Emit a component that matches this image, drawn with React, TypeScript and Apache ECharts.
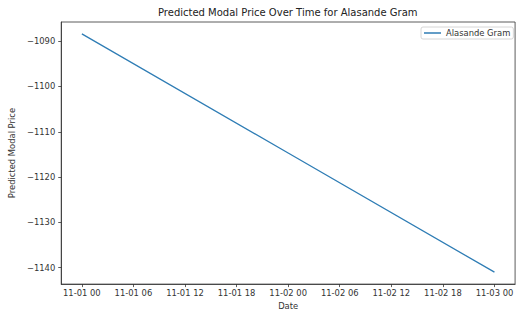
import React, { useEffect, useRef } from "react";
import * as echarts from "echarts";

const seriesName = "Alasande Gram";
const dates = ["2023-11-01T00:00:00Z", "2023-11-02T00:00:00Z", "2023-11-03T00:00:00Z"];
const prices = [-1088.4, -1114.7, -1141.0];
const xTickDates = [
  "2023-11-01T00:00:00Z", "2023-11-01T06:00:00Z", "2023-11-01T12:00:00Z",
  "2023-11-01T18:00:00Z", "2023-11-02T00:00:00Z", "2023-11-02T06:00:00Z",
  "2023-11-02T12:00:00Z", "2023-11-02T18:00:00Z", "2023-11-03T00:00:00Z",
];
const yTicks = [-1140, -1130, -1120, -1110, -1100, -1090];

const FONT = "DejaVu Sans";
const INK = "#333";

const pad2 = (n: number) => (n < 10 ? "0" + n : "" + n);
const fmtDate = (v: number) => {
  const d = new Date(v);
  return pad2(d.getUTCMonth() + 1) + "-" + pad2(d.getUTCDate()) + " " + pad2(d.getUTCHours());
};

export default function App() {
  const ref = useRef<HTMLDivElement>(null);
  useEffect(() => {
    if (!ref.current) return;
    const chart = echarts.init(ref.current, null, { renderer: "svg" });
    const ts = dates.map((d) => Date.parse(d));
    const xTicks = xTickDates.map((d) => Date.parse(d));
    const span = ts[ts.length - 1] - ts[0];
    const yMinD = Math.min(...prices);
    const yMaxD = Math.max(...prices);
    const yr = yMaxD - yMinD;
    chart.setOption({
      animation: false,
      backgroundColor: "#fff",
      title: {
        text: "Predicted Modal Price Over Time for Alasande Gram",
        left: 158,
        top: 7,
        padding: 0,
        textStyle: { fontFamily: FONT, fontSize: 10, fontWeight: "normal", color: "#222" },
      },
      legend: {
        left: 421,
        top: 27,
        orient: "horizontal",
        padding: [2, 3, 2, 3],
        itemWidth: 17,
        itemHeight: 1.5,
        borderColor: "#ccc",
        borderWidth: 0.8,
        borderRadius: 2,
        data: [{ name: seriesName, icon: "rect" }],
        textStyle: { fontFamily: FONT, fontSize: 8.4, color: INK },
      },
      grid: {
        left: 55,
        right: -3,
        top: 22,
        bottom: 25,
        show: true,
        borderColor: INK,
        borderWidth: 0.8,
        containLabel: false,
      },
      xAxis: {
        type: "value",
        min: ts[0] - span * 0.05,
        max: ts[ts.length - 1] + span * 0.05,
        name: "Date",
        nameLocation: "middle",
        nameGap: 17,
        nameTextStyle: { fontFamily: FONT, fontSize: 8.4, color: INK },
        axisLine: { show: true, lineStyle: { color: INK, width: 0.8 } },
        axisTick: { show: true, length: 3, lineStyle: { color: INK, width: 0.8 }, customValues: xTicks },
        axisLabel: {
          customValues: xTicks,
          formatter: (v: number) => fmtDate(v),
          fontFamily: FONT,
          fontSize: 8.4,
          color: INK,
          margin: 5,
          hideOverlap: false,
        },
        splitLine: { show: false },
      },
      yAxis: {
        type: "value",
        min: yMinD - yr * 0.05,
        max: yMaxD + yr * 0.05,
        name: "Predicted Modal Price",
        nameLocation: "middle",
        nameGap: 38,
        nameTextStyle: { fontFamily: FONT, fontSize: 8.4, color: INK },
        axisLine: { show: true, lineStyle: { color: INK, width: 0.8 } },
        axisTick: { show: true, length: 3, lineStyle: { color: INK, width: 0.8 }, customValues: yTicks },
        axisLabel: {
          customValues: yTicks,
          formatter: (v: number) => (v < 0 ? "\u2212" + Math.abs(v) : "" + v),
          fontFamily: FONT,
          fontSize: 8.4,
          color: INK,
          margin: 6,
        },
        splitLine: { show: false },
      },
      series: [
        {
          name: seriesName,
          type: "line",
          data: ts.map((t, i) => [t, prices[i]]),
          showSymbol: false,
          lineStyle: { color: "#2f7db5", width: 1.3 },
          itemStyle: { color: "#2f7db5" },
        },
      ],
    });
    return () => chart.dispose();
  }, []);
  return (
    <div
      ref={ref}
      style={{ position: "fixed", left: 0, top: 0, width: 516, height: 315 }}
    />
  );
}
